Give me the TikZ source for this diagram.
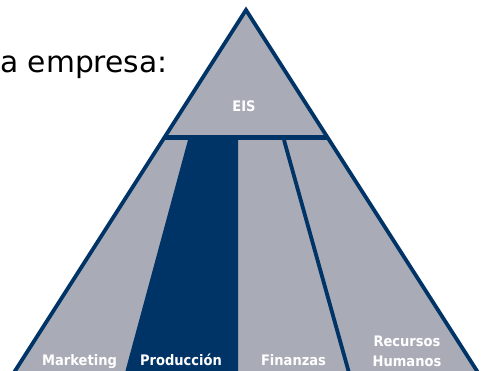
\documentclass[tikz,border=0pt]{standalone}
\usepackage{fontspec}
\setmainfont{DejaVu Sans}
\newfontfamily\areafont[FakeStretch=0.9]{DejaVu Sans}
\usepackage{tikz}
\usetikzlibrary{positioning,calc}
\definecolor{colorframe}    {RGB}{  0, 51,102}
\definecolor{colorarea}     {RGB}{169,172,183}
\definecolor{colortext}     {RGB}{  0,  0,  0}

\begin{document}
\begin{tikzpicture}[
    x=1pt, y=-1pt,
    base/.style={inner sep=0pt,anchor=base},
    title/.style={base,text=colortext,font={\fontsize{29.7}{34}\selectfont},anchor=base west},
    areatxt/.style={base,text=white,font={\areafont\bfseries\fontsize{14.5}{20.5}\selectfont},align=center},
    frame/.style={draw=colorframe,line width=3.8pt,line join=miter},
]
    \useasboundingbox (0,0) rectangle (483,371);

    \coordinate (apex)  at (246,10);
    \coordinate (left)  at (9.2,380);
    \coordinate (right) at (482.8,380);
    \coordinate (sepl)  at ($(apex)!0.3446!(left)$);
    \coordinate (sepr)  at ($(apex)!0.3446!(right)$);

    % pyramid and areas
    \fill[colorarea] (apex) -- (left) -- (right) -- cycle;
    \fill[colorframe] (188,140) -- (238,140) -- (238,380) -- (123,380) -- cycle;
    \draw[frame] (284,140) -- (351,380);
    \draw[frame,line width=5pt] (sepl) -- (sepr);
    \draw[frame] (apex) -- (left) -- (right) -- cycle;

    \node[title] (empresa) at (0,73) {a empresa:};

    \node[areatxt] (eis)        at (244,112)   {EIS};
    \node[areatxt] (marketing)  at (79.5,366)  {Marketing};
    \node[areatxt] (produccion) at (181,366)   {Producción};
    \node[areatxt] (finanzas)   at (293.5,366) {Finanzas};
    \node[areatxt] (recursos)   at (407,367)   {Recursos\\Humanos};

\end{tikzpicture}
\end{document}
